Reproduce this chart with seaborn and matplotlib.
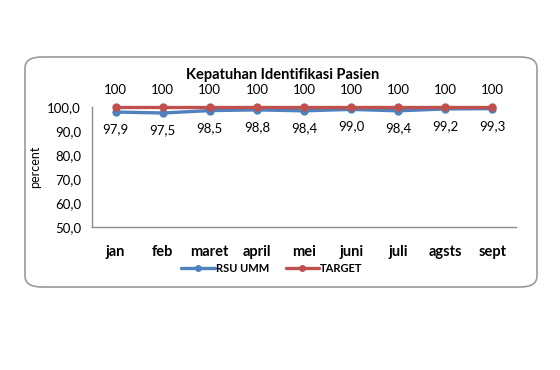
import pandas as pd
import matplotlib.pyplot as plt
import seaborn as sns
from matplotlib.patches import FancyBboxPatch
from matplotlib.ticker import FuncFormatter

# Data
months = ['jan', 'feb', 'maret', 'april', 'mei', 'juni', 'juli', 'agsts', 'sept']
rsu_umm = [97.9, 97.5, 98.5, 98.8, 98.4, 99.0, 98.4, 99.2, 99.3]
target = [100, 100, 100, 100, 100, 100, 100, 100, 100]

df = pd.DataFrame({
    'bulan': months * 2,
    'nilai': rsu_umm + target,
    'seri': ['RSU UMM'] * len(months) + ['TARGET'] * len(months),
})

sns.set_theme(style='white')
plt.rcParams['font.family'] = ['Lato', 'DejaVu Sans']
plt.rcParams['text.color'] = 'black'
plt.rcParams['axes.labelcolor'] = 'black'

fig = plt.figure(figsize=(5.6, 3.7), dpi=100)

# rounded frame around the chart
frame = FancyBboxPatch((25 / 560, 1 - 287 / 370), 512 / 560, 230 / 370,
                       boxstyle='round,pad=0,rounding_size=0.03',
                       transform=fig.transFigure, facecolor='white',
                       edgecolor='#9a9a9a', linewidth=1.2, zorder=-5)
fig.patches.append(frame)

ax = fig.add_axes([92 / 560, 1 - 227 / 370, 424 / 560, 120 / 370])
ax.set_facecolor('none')
ax.set_zorder(2)

palette = {'RSU UMM': '#4F81BD', 'TARGET': '#C0504D'}
sns.lineplot(data=df, x='bulan', y='nilai', hue='seri', palette=palette,
             marker='o', markersize=6, markeredgewidth=0, linewidth=2.4,
             sort=False, ax=ax, legend=False)
for line in ax.lines:
    line.set_clip_on(False)

ax.set_ylim(50, 100)
ax.set_xlim(-0.5, len(months) - 0.5)
ax.set_yticks([50, 60, 70, 80, 90, 100])
ax.yaxis.set_major_formatter(FuncFormatter(lambda v, p: f'{v:.1f}'.replace('.', ',')))
ax.tick_params(axis='y', length=0, pad=8, labelsize=9.5, colors='black')
ax.tick_params(axis='x', length=0, pad=13, labelsize=10.5, colors='black')
for lbl in ax.get_xticklabels():
    lbl.set_fontweight('bold')

ax.set_xlabel('')
ax.set_ylabel('percent', fontsize=9)
ax.yaxis.set_label_coords(-0.12, 0.5)

for s in ['top', 'right']:
    ax.spines[s].set_visible(False)
for s in ['left', 'bottom']:
    ax.spines[s].set_color('#8c8c8c')
    ax.spines[s].set_linewidth(1)

# data labels
for i, (r, t) in enumerate(zip(rsu_umm, target)):
    ax.annotate(f'{t}', (i, t), xytext=(0, 8), textcoords='offset points',
                ha='center', va='bottom', fontsize=9.5, annotation_clip=False)
    ax.annotate(f'{r:.1f}'.replace('.', ','), (i, r), xytext=(0, -8),
                textcoords='offset points', ha='center', va='top', fontsize=9.5)

fig.text(283 / 560, 1 - 75 / 370, 'Kepatuhan Identifikasi Pasien',
         ha='center', va='center', fontsize=10.5, fontweight='bold')

handles = [plt.Line2D([], [], color=palette[k], marker='o', markersize=5,
                      linewidth=2.4, markeredgewidth=0) for k in ['RSU UMM', 'TARGET']]
fig.legend(handles, ['RSU UMM', 'TARGET'], loc='center',
           bbox_to_anchor=(272 / 560, 1 - 268 / 370), ncol=2, frameon=False,
           handlelength=3, handletextpad=0.1, columnspacing=1.5,
           prop={'weight': 'bold', 'size': 8})

fig.savefig('out.png', dpi=100)
